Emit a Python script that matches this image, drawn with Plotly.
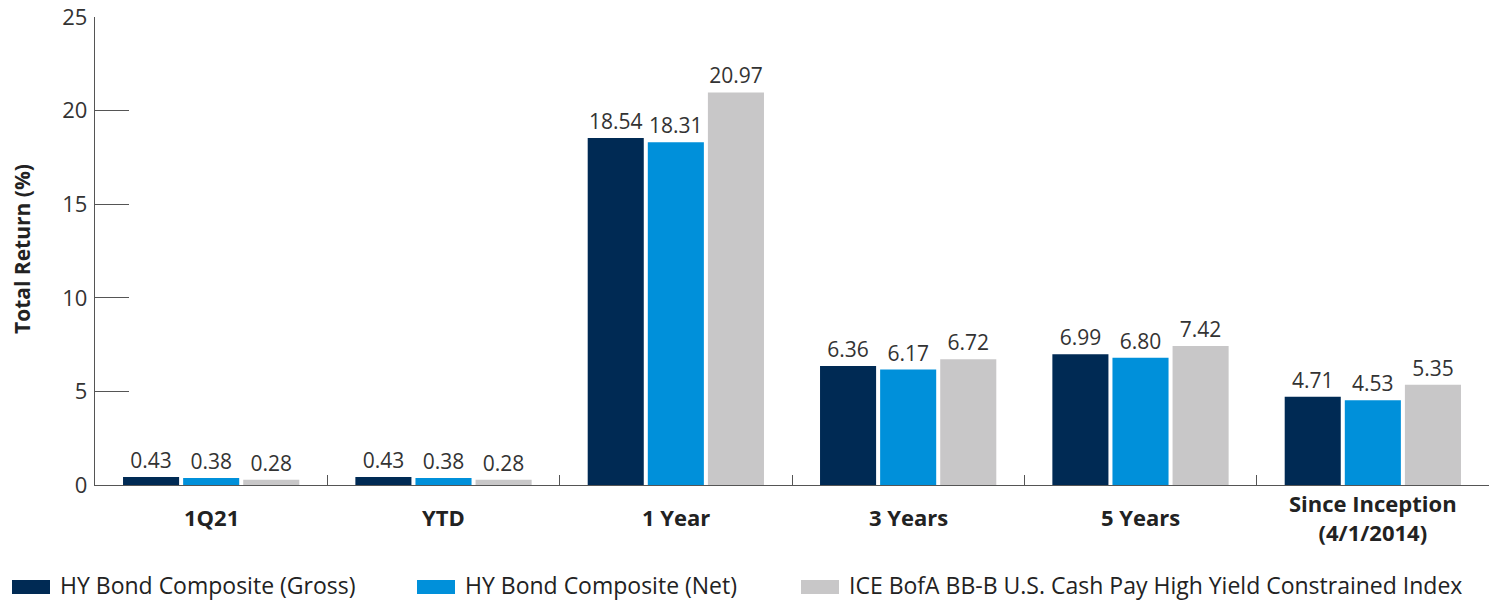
import plotly.graph_objects as go

# Periods and total returns (%)
categories = ["1Q21", "YTD", "1 Year", "3 Years", "5 Years", "Since Inception<br>(4/1/2014)"]
gross = [0.43, 0.43, 18.54, 6.36, 6.99, 4.71]
net = [0.38, 0.38, 18.31, 6.17, 6.80, 4.53]
index = [0.28, 0.28, 20.97, 6.72, 7.42, 5.35]

series_names = [
    "HY Bond Composite (Gross)",
    "HY Bond Composite (Net)",
    "ICE BofA BB-B U.S. Cash Pay High Yield Constrained Index",
]
series_values = [gross, net, index]
series_colors = ["#002A54", "#0090DA", "#C8C7C8"]

y_ticks = [0, 5, 10, 15, 20, 25]

FONT = "Open Sans"
TEXT_COLOR = "#333333"
DARK_TEXT = "#222222"
AXIS_COLOR = "#555555"

W, H = 1508, 601
L, R, T, B = 95, 19, 17, 116
PW, PH = W - L - R, H - T - B


def px_x(x):
    """Pixel column -> paper x."""
    return (x - L) / PW


def px_y(y):
    """Pixel row -> paper y."""
    return (H - B - y) / PH


fig = go.Figure()
for name, vals, color in zip(series_names, series_values, series_colors):
    fig.add_trace(go.Bar(
        x=categories,
        y=vals,
        name=name,
        marker=dict(color=color, line=dict(width=0)),
        text=[f"{v:.2f}" for v in vals],
        textposition="outside",
        textfont=dict(family=FONT, size=21, color=TEXT_COLOR),
        cliponaxis=False,
        showlegend=False,
    ))

fig.update_layout(
    width=W,
    height=H,
    margin=dict(l=L, r=R, t=T, b=B, autoexpand=False),
    paper_bgcolor="white",
    plot_bgcolor="white",
    barmode="group",
    bargap=0.224,
    bargroupgap=0.067,
    font=dict(family=FONT, color=TEXT_COLOR),
)

fig.update_yaxes(
    range=[0, 25],
    tickvals=y_ticks,
    ticks="inside",
    ticklen=34,
    tickwidth=1.3,
    tickcolor=AXIS_COLOR,
    showgrid=False,
    zeroline=False,
    showline=True,
    linecolor=AXIS_COLOR,
    linewidth=1.3,
    automargin=False,
    tickfont=dict(family=FONT, size=22, color=TEXT_COLOR),
    ticklabelstandoff=2,
)

fig.update_xaxes(
    showline=True,
    linecolor=AXIS_COLOR,
    linewidth=1.3,
    ticks="inside",
    tickson="boundaries",
    ticklen=10,
    tickwidth=1.3,
    tickcolor=AXIS_COLOR,
    showgrid=False,
    showticklabels=False,
    automargin=False,
)

# Category labels, vertically centred under each group
for cat in categories:
    fig.add_annotation(
        x=cat, xref="x", y=px_y(517), yref="paper",
        xanchor="center", yanchor="middle",
        text=f"<b>{cat}</b>", showarrow=False,
        font=dict(family=FONT, size=22, color=DARK_TEXT),
    )

# Y axis title
fig.add_annotation(
    x=px_x(22), xref="paper", y=px_y(249), yref="paper",
    xanchor="center", yanchor="middle", textangle=-90,
    text="<b>Total Return (%)</b>", showarrow=False,
    font=dict(family=FONT, size=21, color=DARK_TEXT),
)

# Legend drawn as swatches with labels along the bottom
legend_x = [12, 417, 801]
for lx, name, color in zip(legend_x, series_names, series_colors):
    fig.add_shape(
        type="rect", xref="paper", yref="paper",
        x0=px_x(lx), x1=px_x(lx + 38),
        y0=px_y(594), y1=px_y(580),
        fillcolor=color, line=dict(width=0), layer="above",
    )
    fig.add_annotation(
        xref="paper", yref="paper",
        x=px_x(lx + 46), y=px_y(585),
        xanchor="left", yanchor="middle",
        text=name, showarrow=False,
        font=dict(family=FONT, size=23, color=DARK_TEXT),
    )

fig.write_html("out.html")
